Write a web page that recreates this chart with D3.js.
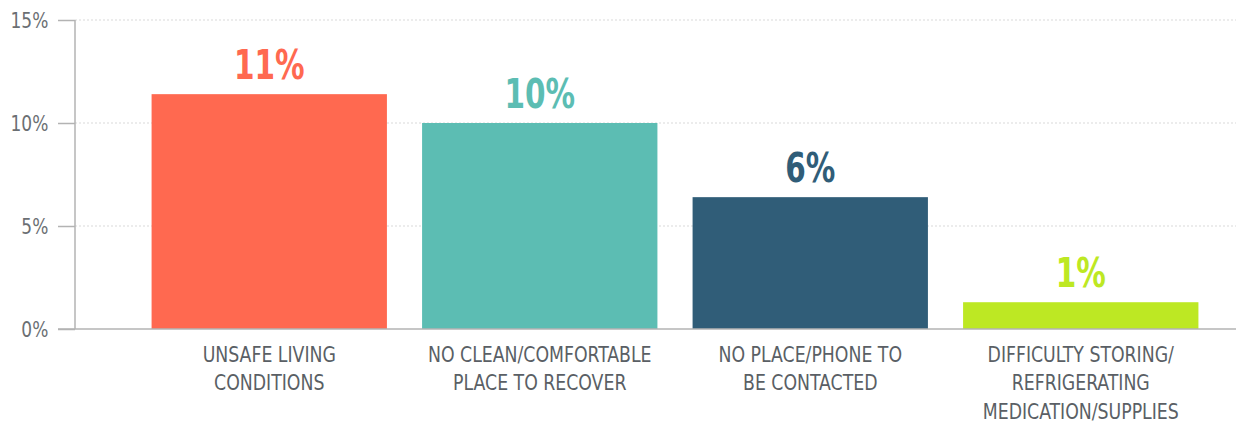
<!DOCTYPE html>
<html>
<head>
<meta charset="utf-8">
<script src="https://cdn.jsdelivr.net/npm/d3@7"></script>
<style>
  html, body { margin: 0; padding: 0; background: #fff; }
  svg { display: block; }
  .cond { font-family: "Liberation Sans Narrow", "DejaVu Sans Condensed", "Liberation Sans", sans-serif; }
</style>
</head>
<body>
<svg id="chart" width="1236" height="423"></svg>
<script>
// Share of respondents reporting each barrier
const categories = [
  ["UNSAFE LIVING", "CONDITIONS"],
  ["NO CLEAN/COMFORTABLE", "PLACE TO RECOVER"],
  ["NO PLACE/PHONE TO", "BE CONTACTED"],
  ["DIFFICULTY STORING/", "REFRIGERATING", "MEDICATION/SUPPLIES"]
];
const values = [11.4, 10.0, 6.4, 1.3];
const valueLabels = ["11%", "10%", "6%", "1%"];
const barColors = ["#FF6950", "#5CBDB3", "#305D78", "#BDE823"];
const yTicks = [0, 5, 10, 15];

const svg = d3.select("#chart");
const W = 1236;
const axisX = 75, baseY = 329, topY = 20;
// horizontal squeeze to give the text a narrow, condensed look
const squeeze = { tick: 0.86, value: 0.8, cat: 0.875 };

const y = d3.scaleLinear().domain([0, 15]).range([baseY, topY]);
const x = d3.scaleBand()
  .domain(d3.range(values.length))
  .range([134, 1216])
  .paddingInner(0.13)
  .paddingOuter(0.065);

// dotted gridlines
svg.append("g")
  .selectAll("line")
  .data(yTicks.filter(d => d > 0))
  .join("line")
  .attr("x1", axisX).attr("x2", W)
  .attr("y1", d => y(d)).attr("y2", d => y(d))
  .attr("stroke", "#d9d9d9")
  .attr("stroke-width", 1)
  .attr("stroke-dasharray", "2,2");

// y axis
const yAxis = d3.axisLeft(y)
  .tickValues(yTicks)
  .tickSize(17)
  .tickPadding(14)
  .tickFormat(d => d + "%");
const gy = svg.append("g")
  .attr("transform", `translate(${axisX},0)`)
  .call(yAxis);
gy.select(".domain").attr("stroke", "#b3b3b3").attr("stroke-width", 1.5)
  .attr("d", `M0,${topY}V${baseY}`);
gy.selectAll(".tick line").attr("stroke", "#b3b3b3").attr("stroke-width", 1.5);
gy.selectAll(".tick text")
  .attr("class", "cond")
  .attr("fill", "#6b6f73")
  .attr("font-size", 22)
  .attr("font-weight", 300)
  .attr("transform", `scale(${squeeze.tick},1)`);

// bars
svg.append("g")
  .selectAll("rect")
  .data(values)
  .join("rect")
  .attr("x", (d, i) => x(i))
  .attr("width", x.bandwidth())
  .attr("y", d => y(d))
  .attr("height", d => baseY - y(d))
  .attr("fill", (d, i) => barColors[i]);

// baseline
svg.append("line")
  .attr("x1", 58).attr("x2", W)
  .attr("y1", baseY).attr("y2", baseY)
  .attr("stroke", "#b3b3b3").attr("stroke-width", 1.5);

// value labels
svg.append("g")
  .selectAll("g")
  .data(values)
  .join("g")
  .attr("transform", (d, i) =>
    `translate(${x(i) + x.bandwidth() / 2},${y(d) - 15}) scale(${squeeze.value},1)`)
  .append("text")
  .attr("class", "cond")
  .attr("text-anchor", "middle")
  .attr("font-size", 41)
  .attr("font-weight", 600)
  .attr("fill", (d, i) => barColors[i])
  .text((d, i) => valueLabels[i]);

// category labels
const cat = svg.append("g")
  .selectAll("g")
  .data(categories)
  .join("g")
  .attr("transform", (d, i) =>
    `translate(${x(i) + x.bandwidth() / 2},362) scale(${squeeze.cat},1)`)
  .append("text")
  .attr("class", "cond")
  .attr("text-anchor", "middle")
  .attr("font-size", 22)
  .attr("fill", "#5a5f65");
cat.selectAll("tspan")
  .data(d => d)
  .join("tspan")
  .attr("x", 0)
  .attr("dy", (d, i) => i === 0 ? 0 : 28.5)
  .text(d => d);
</script>
</body>
</html>
